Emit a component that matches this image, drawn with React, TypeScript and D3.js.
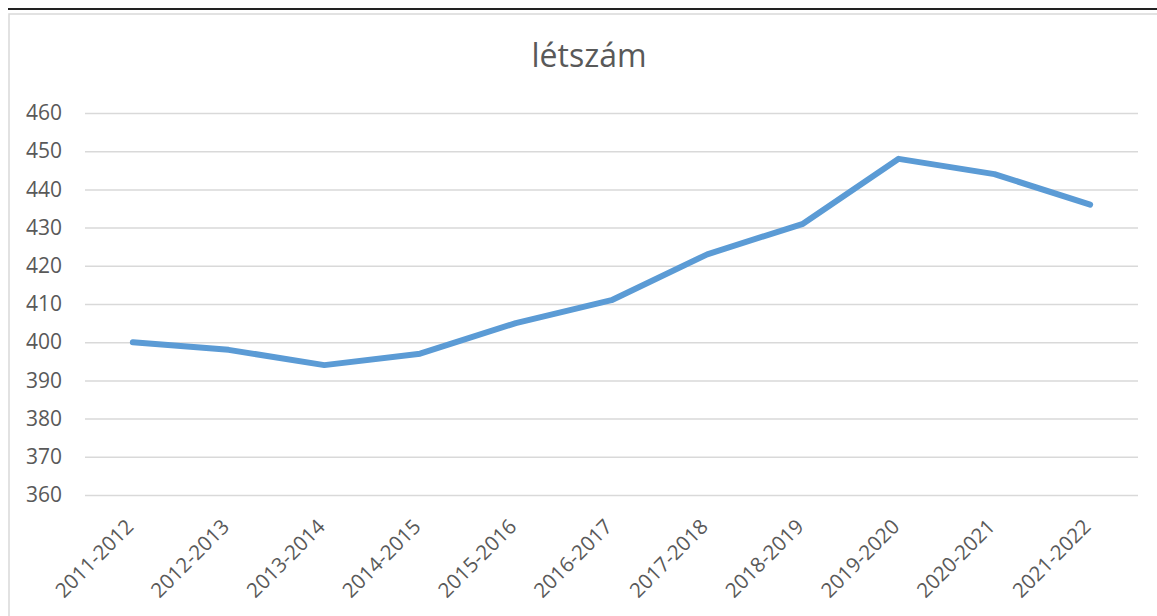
import React, { useRef, useEffect } from 'react';
import { select, scaleBand, scaleLinear, line, axisLeft, axisBottom } from 'd3';

const years = ['2011-2012', '2012-2013', '2013-2014', '2014-2015', '2015-2016', '2016-2017',
  '2017-2018', '2018-2019', '2019-2020', '2020-2021', '2021-2022'];
const letszam = [400, 398, 394, 397, 405, 411, 423, 431, 448, 444, 436];
const yTicks = [360, 370, 380, 390, 400, 410, 420, 430, 440, 450, 460];

const W = 1157;
const H = 616;
const FONT = '"Open Sans", sans-serif';

export default function App() {
  const svgRef = useRef<SVGSVGElement>(null);

  useEffect(() => {
    const svg = select(svgRef.current);
    svg.selectAll('*').remove();

    const left = 85, right = 1138, top = 113, bottom = 495;

    const xScale = scaleBand().domain(years).range([left, right]);
    const yScale = scaleLinear().domain([360, 460]).range([bottom, top]);

    // page rule + chart frame
    svg.append('line').attr('x1', 8).attr('x2', W).attr('y1', 9).attr('y2', 9)
      .attr('stroke', '#222').attr('stroke-width', 2);
    svg.append('path').attr('d', `M9,${H} V14 H${W}`)
      .attr('fill', 'none').attr('stroke', '#d9d9d9').attr('stroke-width', 1.5);

    svg.append('text').attr('x', 589).attr('y', 67).attr('text-anchor', 'middle')
      .attr('font-family', FONT).attr('font-size', 32).attr('fill', '#595959')
      .text('létszám');

    const yAxis = axisLeft(yScale).tickValues(yTicks).tickSize(-(right - left)).tickPadding(23);
    const gy = svg.append('g').attr('transform', `translate(${left},0)`).call(yAxis);
    gy.select('.domain').remove();
    gy.selectAll('.tick line').attr('stroke', '#d9d9d9').attr('stroke-width', 1.5);
    gy.selectAll('.tick text').attr('font-family', FONT).attr('font-size', 21)
      .attr('fill', '#595959').attr('x', -23);

    const xAxis = axisBottom(xScale).tickSize(0).tickPadding(0);
    const gx = svg.append('g').attr('transform', `translate(0,${bottom})`).call(xAxis);
    gx.select('.domain').remove();
    gx.selectAll('.tick text')
      .attr('font-family', FONT).attr('font-size', 20.5).attr('fill', '#595959')
      .attr('text-anchor', 'end').attr('dy', 0).attr('y', 0)
      .attr('transform', 'translate(2,33) rotate(-45)');

    const lineGen = line<number>()
      .x((_, i) => (xScale(years[i]) as number) + xScale.bandwidth() / 2)
      .y(d => yScale(d));

    svg.append('path').datum(letszam).attr('d', lineGen)
      .attr('fill', 'none').attr('stroke', '#5b9bd5').attr('stroke-width', 6)
      .attr('stroke-linecap', 'round').attr('stroke-linejoin', 'round');
  }, []);

  return (
    <svg ref={svgRef} width={W} height={H}
      style={{ position: 'absolute', left: 0, top: 0, background: '#fff' }} />
  );
}
